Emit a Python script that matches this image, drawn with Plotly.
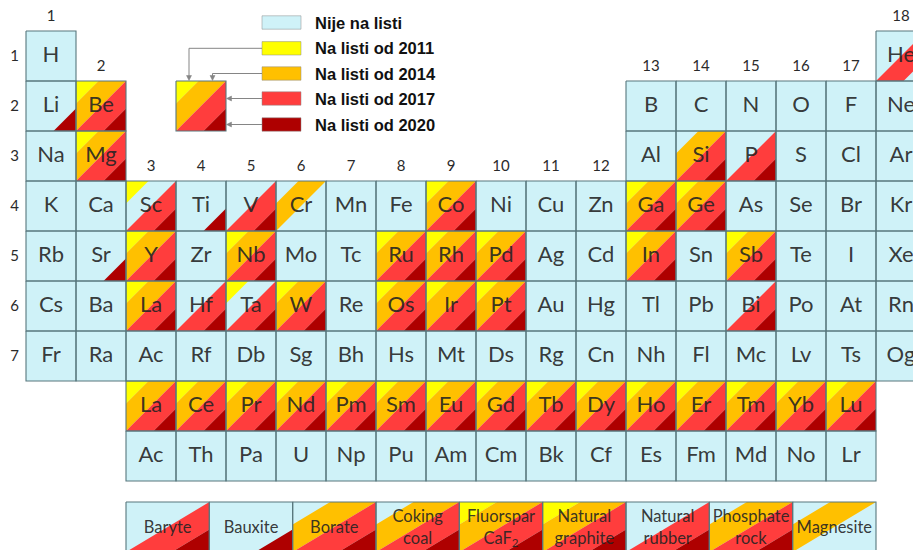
import plotly.graph_objects as go

# ---------------- data ----------------
YEARS = ["2011", "2014", "2017", "2020"]

PERIOD_ROWS = [
    ["H", "", "", "", "", "", "", "", "", "", "", "", "", "", "", "", "", "He"],
    ["Li", "Be", "", "", "", "", "", "", "", "", "", "", "B", "C", "N", "O", "F", "Ne"],
    ["Na", "Mg", "", "", "", "", "", "", "", "", "", "", "Al", "Si", "P", "S", "Cl", "Ar"],
    ["K", "Ca", "Sc", "Ti", "V", "Cr", "Mn", "Fe", "Co", "Ni", "Cu", "Zn", "Ga", "Ge", "As", "Se", "Br", "Kr"],
    ["Rb", "Sr", "Y", "Zr", "Nb", "Mo", "Tc", "Ru", "Rh", "Pd", "Ag", "Cd", "In", "Sn", "Sb", "Te", "I", "Xe"],
    ["Cs", "Ba", "La", "Hf", "Ta", "W", "Re", "Os", "Ir", "Pt", "Au", "Hg", "Tl", "Pb", "Bi", "Po", "At", "Rn"],
    ["Fr", "Ra", "Ac", "Rf", "Db", "Sg", "Bh", "Hs", "Mt", "Ds", "Rg", "Cn", "Nh", "Fl", "Mc", "Lv", "Ts", "Og"],
]
LANTHANIDES = ["La", "Ce", "Pr", "Nd", "Pm", "Sm", "Eu", "Gd", "Tb", "Dy", "Ho", "Er", "Tm", "Yb", "Lu"]
ACTINIDES = ["Ac", "Th", "Pa", "U", "Np", "Pu", "Am", "Cm", "Bk", "Cf", "Es", "Fm", "Md", "No", "Lr"]
LANTHANIDE_STATUS = ["1111"] * 15

# status per year (2011, 2014, 2017, 2020): 1 = on the list
ELEMENT_STATUS = {
    "He": "0010", "Li": "0001", "Be": "1111", "Mg": "1111", "Si": "0111", "P": "0011",
    "Sc": "1011", "Ti": "0001", "V": "0011", "Cr": "0100", "Co": "1111", "Ga": "1111", "Ge": "1111",
    "Sr": "0001", "Y": "1111", "Nb": "1111", "Ru": "1111", "Rh": "1111", "Pd": "1111",
    "In": "1111", "Sb": "1111",
    "La": "1111", "Hf": "0011", "Ta": "1011", "W": "1111", "Os": "1111", "Ir": "1111",
    "Pt": "1111", "Bi": "0011",
}

MINERALS = ["Baryte", "Bauxite", "Borate", "Coking<br>coal", "Fluorspar<br>CaF<sub>2</sub>",
            "Natural<br>graphite", "Natural<br>rubber", "Phosphate<br>rock", "Magnesite"]
MINERAL_STATUS = ["0011", "0001", "0111", "0111", "1111", "1111", "0011", "0111", "0100"]

LEGEND_LABELS = ["Nije na listi", "Na listi od 2011", "Na listi od 2014",
                 "Na listi od 2017", "Na listi od 2020"]

# ---------------- style ----------------
C_NONE = "#CFF2F8"
C_YEAR = ["#FFFF00", "#FFC000", "#FF3D3D", "#AE0000"]
BORDER = "#58777D"
BAND_EDGES = [0.0, 0.45, 1.0, 1.55, 2.0]
TXT = "rgba(35,35,35,0.9)"
FONT = "Lato, Open Sans, sans-serif"

W, H = 913, 550
PX = 50.0                  # px per cell


def X(px):                 # page pixel -> group units
    return (px - 26) / PX + 0.5


def Y(py):                 # page pixel -> period units
    return (py - 31) / PX + 0.5


def clip(poly, f):
    out = []
    n = len(poly)
    for i in range(n):
        a, b = poly[i], poly[(i + 1) % n]
        fa, fb = f(*a), f(*b)
        if fa >= 0:
            out.append(a)
        if (fa >= 0) != (fb >= 0):
            t = fa / (fa - fb)
            out.append((a[0] + t * (b[0] - a[0]), a[1] + t * (b[1] - a[1])))
    return out


def band(k):
    lo, hi = BAND_EDGES[k], BAND_EDGES[k + 1]
    sq = [(0, 0), (1, 0), (1, 1), (0, 1)]
    p = clip(sq, lambda u, v: u + v - lo)
    p = clip(p, lambda u, v: hi - (u + v))
    return p


BANDS = [band(k) for k in range(4)]

fills = {c: ([], []) for c in [C_NONE] + C_YEAR}
bx, by = [], []
tx, ty, tt = [], [], []


def add_cell(xl, yt, w, h, status, label=None):
    xs, ys = fills[C_NONE]
    xs += [xl, xl + w, xl + w, xl, xl, None]
    ys += [yt, yt, yt + h, yt + h, yt, None]
    if status:
        for k, flag in enumerate(status):
            if flag == "1":
                cx, cy = fills[C_YEAR[k]]
                for (u, v) in BANDS[k]:
                    cx.append(xl + u * w)
                    cy.append(yt + v * h)
                cx.append(None)
                cy.append(None)
    bx.extend([xl, xl + w, xl + w, xl, xl, None])
    by.extend([yt, yt, yt + h, yt + h, yt, None])
    if label:
        tx.append(xl + w / 2)
        ty.append(yt + h / 2)
        tt.append(label)


# main table
for p, row in enumerate(PERIOD_ROWS, start=1):
    for g, sym in enumerate(row, start=1):
        if sym:
            add_cell(g - 0.5, p - 0.5, 1, 1, ELEMENT_STATUS.get(sym), sym)
# f-block
for i, sym in enumerate(LANTHANIDES):
    add_cell(3 + i - 0.5, 8 - 0.5, 1, 1, LANTHANIDE_STATUS[i], sym)
for i, sym in enumerate(ACTINIDES):
    add_cell(3 + i - 0.5, 9 - 0.5, 1, 1, None, sym)
# minerals
mw = 15 / len(MINERALS)
mtop = Y(502)
mx, my, mt = [], [], []
for i, (name, st) in enumerate(zip(MINERALS, MINERAL_STATUS)):
    add_cell(2.5 + i * mw, mtop, mw, 1, st)
    mx.append(2.5 + i * mw + mw / 2)
    my.append(mtop + 0.54)
    mt.append(name)
# legend example square (group 4, period 2)
add_cell(3.5, 1.5, 1, 1, "1111")

fig = go.Figure()
for c, (xs, ys) in fills.items():
    fig.add_trace(go.Scatter(x=xs, y=ys, mode="none", fill="toself", fillcolor=c,
                             hoverinfo="skip", showlegend=False))
fig.add_trace(go.Scatter(x=bx, y=by, mode="lines", line=dict(color=BORDER, width=1.1),
                         hoverinfo="skip", showlegend=False))
fig.add_trace(go.Scatter(x=tx, y=ty, mode="text", text=tt,
                         textfont=dict(family=FONT, size=22, color=TXT),
                         hoverinfo="skip", showlegend=False))
fig.add_trace(go.Scatter(x=mx, y=my, mode="text", text=mt,
                         textfont=dict(family=FONT, size=16.5, color=TXT),
                         hoverinfo="skip", showlegend=False))

# group numbers
top_row = {1: 1, 2: 2, 13: 2, 14: 2, 15: 2, 16: 2, 17: 2, 18: 1}
gx, gy, gt = [], [], []
for g in range(1, 19):
    gx.append(g)
    gy.append(top_row.get(g, 4) - 0.5 - 0.27)
    gt.append(str(g))
fig.add_trace(go.Scatter(x=gx, y=gy, mode="text", text=gt,
                         textfont=dict(family=FONT, size=15, color="#2a2a2a"),
                         hoverinfo="skip", showlegend=False))
# period numbers
fig.add_trace(go.Scatter(x=[X(14.5)] * 7, y=[p + 0.03 for p in range(1, 8)], mode="text",
                         text=[str(p) for p in range(1, 8)],
                         textfont=dict(family=FONT, size=15, color="#2a2a2a"),
                         hoverinfo="skip", showlegend=False))

# legend
shapes = []
annos = []
sw_cols = [C_NONE] + C_YEAR
row_y = [22.5, 48.3, 73.5, 98.5, 124.5]
for lbl, col, yc in zip(LEGEND_LABELS, sw_cols, row_y):
    shapes.append(dict(type="rect", xref="x", yref="y", x0=X(262), x1=X(301),
                       y0=Y(yc - 6.7), y1=Y(yc + 6.7), fillcolor=col,
                       line=dict(color="rgba(140,140,140,0.5)", width=1)))
    annos.append(dict(x=X(313), y=Y(yc), xref="x", yref="y", text="<b>" + lbl + "</b>",
                      showarrow=False, xanchor="left", yanchor="middle",
                      font=dict(family="Liberation Sans, Arial, sans-serif", size=16.5, color="#111")))

ARC = "#858585"


def seg(x0, y0, x1, y1):
    shapes.append(dict(type="line", xref="x", yref="y", x0=X(x0), x1=X(x1), y0=Y(y0), y1=Y(y1),
                       line=dict(color=ARC, width=1)))


def head(pts):
    path = "M " + " L ".join(f"{X(a):.4f},{Y(b):.4f}" for a, b in pts) + " Z"
    shapes.append(dict(type="path", xref="x", yref="y", path=path, fillcolor=ARC,
                       line=dict(color=ARC, width=0.5)))


# connectors: down-pointing to the square's top edge
for xv, yc in [(189, row_y[1]), (212.5, row_y[2])]:
    seg(262, yc, xv, yc)
    seg(xv, yc, xv, 76)
    head([(xv - 2.5, 75.5), (xv + 2.5, 75.5), (xv, 80.5)])
# connectors: left-pointing to the square's right edge
for yc in [row_y[3], row_y[4]]:
    seg(262, yc, 231, yc)
    head([(231.5, yc - 2.5), (231.5, yc + 2.5), (226.5, yc)])

fig.update_layout(
    width=W, height=H, margin=dict(l=0, r=0, t=0, b=0),
    paper_bgcolor="white", plot_bgcolor="white",
    xaxis=dict(range=[X(0), X(W)], visible=False, fixedrange=True),
    yaxis=dict(range=[Y(H), Y(0)], visible=False, fixedrange=True),
    shapes=shapes, annotations=annos, showlegend=False,
)
fig.write_html("out.html", config={"displayModeBar": False},
               post_script="document.body.style.margin='0';document.body.style.overflow='hidden';")
